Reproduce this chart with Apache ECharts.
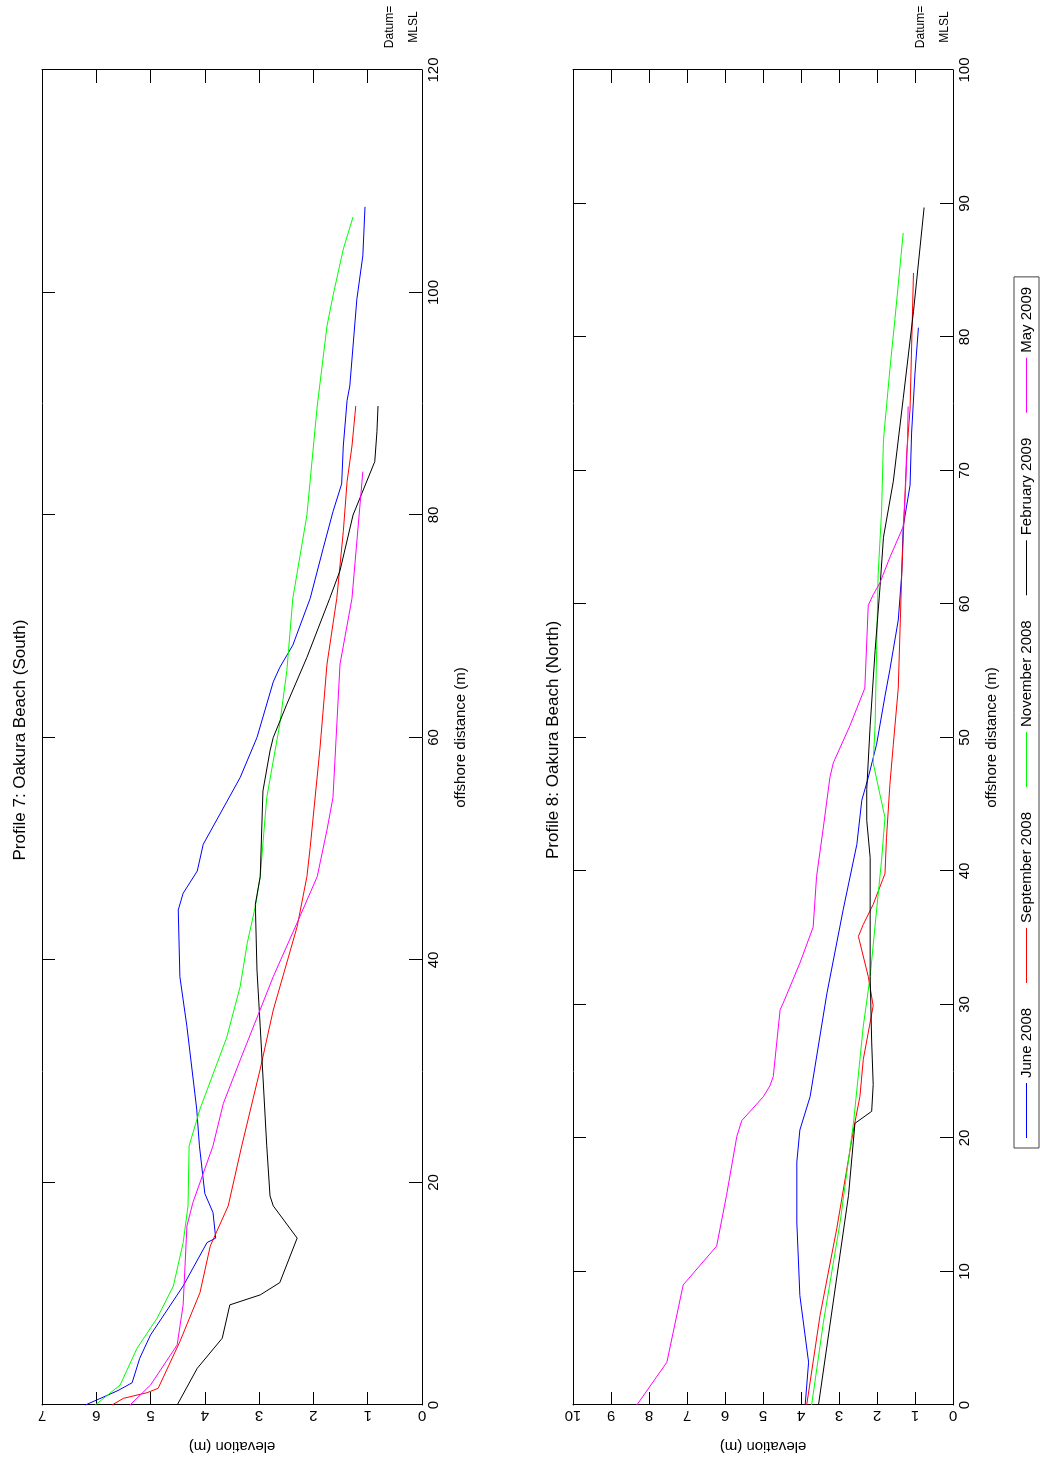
<!DOCTYPE html>
<html>
<head>
<meta charset="utf-8">
<script src="https://cdn.jsdelivr.net/npm/echarts@6/dist/echarts.min.js"></script>
<style>
html,body{margin:0;padding:0;background:#fff;width:1040px;height:1462px;overflow:hidden}
#chart{position:absolute;left:0;top:0;width:1462px;height:1040px;transform-origin:0 0;transform:translateY(1462px) rotate(-90deg);background:#fff}
</style>
</head>
<body>
<div id="chart"></div>
<script>
// ---- data (offshore distance m, elevation m) ----
const seriesNames = ['June 2008', 'September 2008', 'November 2008', 'February 2009', 'May 2009'];
const seriesColors = ['#0000ff', '#ff0000', '#00ff00', '#000000', '#ff00ff'];

const titles = ['Profile 7: Oakura Beach (South)', 'Profile 8: Oakura Beach (North)'];
const xAxisName = 'offshore distance (m)';
const yAxisName = 'elevation (m)';

// Profile 7 axis ticks
const p7DistTicks = { min: 0, max: 120, interval: 20 };
const p7ElevTicks = { min: 0, max: 7, interval: 1 };
// Profile 8 axis ticks
const p8DistTicks = { min: 0, max: 100, interval: 10 };
const p8ElevTicks = { min: 0, max: 10, interval: 1 };

const p7June = [[0,6.2],[1.3,5.6],[2,5.34],[4.2,5.2],[6.3,5.0],[10.7,4.4],[14.6,3.96],[15,3.8],[17.3,3.85],[19,4.0],[23.3,4.1],[26.6,4.15],[34,4.33],[38.5,4.46],[44.5,4.49],[46,4.4],[48,4.14],[50.4,4.03],[56.4,3.35],[60,3.04],[65,2.74],[66.3,2.62],[68.3,2.38],[72.5,2.06],[77,1.82],[80.3,1.64],[82.8,1.48],[86.2,1.45],[90.3,1.38],[91.6,1.33],[99.4,1.2],[103.3,1.09],[107.7,1.05]];
const p7Sep = [[0,5.71],[0.6,5.5],[1.1,5.07],[1.5,4.86],[5.7,4.46],[10.1,4.09],[14.3,3.9],[17.9,3.57],[23.3,3.32],[30.2,2.98],[35.5,2.74],[43,2.3],[47.5,2.12],[50.1,2.06],[59,1.88],[66.6,1.75],[72.5,1.57],[78.5,1.45],[83,1.38],[86.2,1.29],[89.8,1.22]];
const p7Nov = [[0,6.02],[1.8,5.56],[5.1,5.25],[7.8,4.88],[10.7,4.58],[14.6,4.4],[17.9,4.31],[23.3,4.29],[26.6,4.09],[33,3.6],[37.6,3.35],[41.5,3.22],[44.8,3.07],[47.5,2.98],[54.6,2.86],[61.2,2.62],[66,2.49],[72.5,2.38],[80,2.12],[89.8,1.93],[97,1.75],[99.7,1.64],[103.9,1.45],[106.8,1.27]];
const p7Feb = [[0,4.51],[3.3,4.14],[6,3.68],[9,3.54],[9.9,2.98],[11,2.62],[15,2.3],[17.9,2.74],[18.8,2.8],[23.3,2.86],[34,2.98],[39.1,3.04],[45,3.07],[47.5,2.98],[55.2,2.93],[58.8,2.8],[60,2.74],[63,2.49],[67.2,2.12],[72.5,1.7],[75,1.51],[80,1.27],[84.8,0.87],[87.5,0.83],[89.8,0.81]];
const p7May = [[0,5.38],[1.8,5.0],[5.4,4.51],[9,4.4],[16.1,4.33],[18.2,4.22],[23.3,3.85],[27.1,3.66],[31,3.35],[38.5,2.74],[43.9,2.25],[47.5,1.93],[51.7,1.75],[54.6,1.64],[66.6,1.51],[72.5,1.29],[83.9,1.09]];

const p8June = [[0,3.89],[3.2,3.8],[8.2,4.03],[13.7,4.11],[18.2,4.11],[20.6,4.03],[23.1,3.76],[30.8,3.32],[37.1,2.89],[42,2.53],[45.3,2.4],[47,2.23],[49.5,2.01],[53.1,1.79],[55.1,1.66],[58.8,1.44],[62.2,1.35],[65.8,1.31],[68.9,1.13],[72.8,1.09],[77.3,1.0],[80.7,0.91]];
const p8Sep = [[0,3.85],[6.7,3.5],[13.2,3.06],[20.6,2.62],[23.1,2.45],[25.9,2.36],[29.9,2.1],[32.1,2.23],[35.1,2.49],[36,2.36],[37.5,2.1],[39.8,1.79],[42.5,1.75],[46.5,1.66],[49.5,1.57],[53.7,1.44],[62.2,1.35],[68.4,1.26],[71.2,1.22],[74.6,1.13],[84.8,1.04]];
const p8Nov = [[0,3.72],[6.2,3.41],[13.7,2.97],[21.1,2.62],[28.4,2.36],[32.1,2.18],[37.1,2.01],[40.8,1.88],[44,1.79],[46.1,1.95],[48.1,2.1],[50.9,2.05],[56.5,2.01],[62.2,1.97],[66.9,1.88],[72.3,1.83],[77.6,1.66],[81.3,1.53],[87.8,1.31]];
const p8Feb = [[0,3.54],[15.7,2.75],[21.1,2.58],[22,2.14],[24,2.1],[27.2,2.14],[32.1,2.18],[41,2.18],[43.8,2.27],[46.1,2.27],[50.9,2.18],[56.5,2.05],[61.3,1.92],[65,1.83],[69.2,1.57],[75.4,1.31],[81.9,1.04],[89.7,0.76]];
const p8May = [[0,8.32],[3.2,7.53],[9.0,7.1],[11.9,6.22],[15.7,5.96],[20.1,5.69],[21.3,5.56],[23.1,4.99],[23.9,4.82],[24.6,4.73],[29.6,4.55],[30.1,4.47],[33.1,4.03],[35.8,3.68],[39.6,3.59],[43.3,3.41],[47,3.24],[48.1,3.15],[50.9,2.71],[53.7,2.32],[59.9,2.23],[60.7,2.1],[61.6,1.92],[63.5,1.66],[65.8,1.31],[68,1.26],[72,1.2],[74.8,1.18]];

const profile7 = [p7June, p7Sep, p7Nov, p7Feb, p7May];
const profile8 = [p8June, p8Sep, p8Nov, p8Feb, p8May];

// ---- chart ----
const FONT = 'Arial, "Liberation Sans", Helvetica, sans-serif';
const el = document.getElementById('chart');
const chart = echarts.init(el, null, { width: 1462, height: 1040, renderer: 'canvas' });

const axisColor = '#000';
function baseAxis(ticks, extra) {
  return Object.assign({
    type: 'value',
    min: ticks.min, max: ticks.max, interval: ticks.interval,
    axisLine: { show: true, onZero: false, lineStyle: { color: axisColor, width: 1 } },
    axisTick: { show: true, inside: true, length: 13, lineStyle: { color: axisColor, width: 1 } },
    splitLine: { show: false },
    axisLabel: { show: false }
  }, extra);
}
function xMain(grid, ticks) {
  return baseAxis(ticks, {
    gridIndex: grid, position: 'bottom',
    axisLabel: { show: true, fontSize: 15, margin: 4, color: '#000', fontFamily: FONT },
    name: xAxisName, nameLocation: 'middle', nameGap: 31,
    nameTextStyle: { fontSize: 15, color: '#000', fontFamily: FONT }
  });
}
function xTop(grid, ticks) { return baseAxis(ticks, { gridIndex: grid, position: 'top' }); }
function yMain(grid, ticks) {
  return baseAxis(ticks, {
    gridIndex: grid, position: 'left',
    axisLabel: { show: true, fontSize: 15, margin: 3, rotate: 90, color: '#000', fontFamily: FONT },
    name: yAxisName, nameLocation: 'middle', nameGap: 34, nameRotate: 90,
    nameTextStyle: { fontSize: 15, color: '#000', fontFamily: FONT }
  });
}
function yRight(grid, ticks) { return baseAxis(ticks, { gridIndex: grid, position: 'right' }); }

const series = [];
[profile7, profile8].forEach((prof, g) => {
  prof.forEach((data, i) => {
    series.push({
      name: seriesNames[i], type: 'line',
      xAxisIndex: g * 2, yAxisIndex: g * 2,
      data: data, showSymbol: false, symbol: 'none',
      lineStyle: { color: seriesColors[i], width: 1 },
      itemStyle: { color: seriesColors[i] },
      emphasis: { disabled: true }
    });
  });
});

function txt(x, y, text, size) {
  return { type: 'text', x: x, y: y, silent: true,
    style: { text: text, fontSize: size, fontFamily: FONT, fill: '#000', align: 'center', verticalAlign: 'middle' } };
}

const option = {
  animation: false,
  backgroundColor: '#fff',
  textStyle: { fontFamily: FONT },
  grid: [
    { left: 52, top: 42, width: 1340, height: 380 },
    { left: 52, top: 573, width: 1340, height: 380 }
  ],
  xAxis: [xMain(0, p7DistTicks), xTop(0, p7DistTicks), xMain(1, p8DistTicks), xTop(1, p8DistTicks)],
  yAxis: [yMain(0, p7ElevTicks), yRight(0, p7ElevTicks), yMain(1, p8ElevTicks), yRight(1, p8ElevTicks)],
  legend: {
    data: seriesNames,
    orient: 'horizontal',
    left: 314, top: 1014,
    icon: 'rect', itemWidth: 55, itemHeight: 1,
    itemGap: 25,
    padding: [5, 10, 5, 10],
    borderColor: '#444', borderWidth: 1,
    backgroundColor: '#fff',
    selectedMode: false,
    textStyle: { fontSize: 15, color: '#000', fontFamily: FONT }
  },
  graphic: [
    txt(722, 20, titles[0], 17),
    txt(722, 553, titles[1], 17),
    txt(1435, 390, 'Datum=', 12),
    txt(1435, 414, 'MLSL', 12),
    txt(1435, 921, 'Datum=', 12),
    txt(1435, 945, 'MLSL', 12)
  ],
  series: series
};
chart.setOption(option);
</script>
</body>
</html>
